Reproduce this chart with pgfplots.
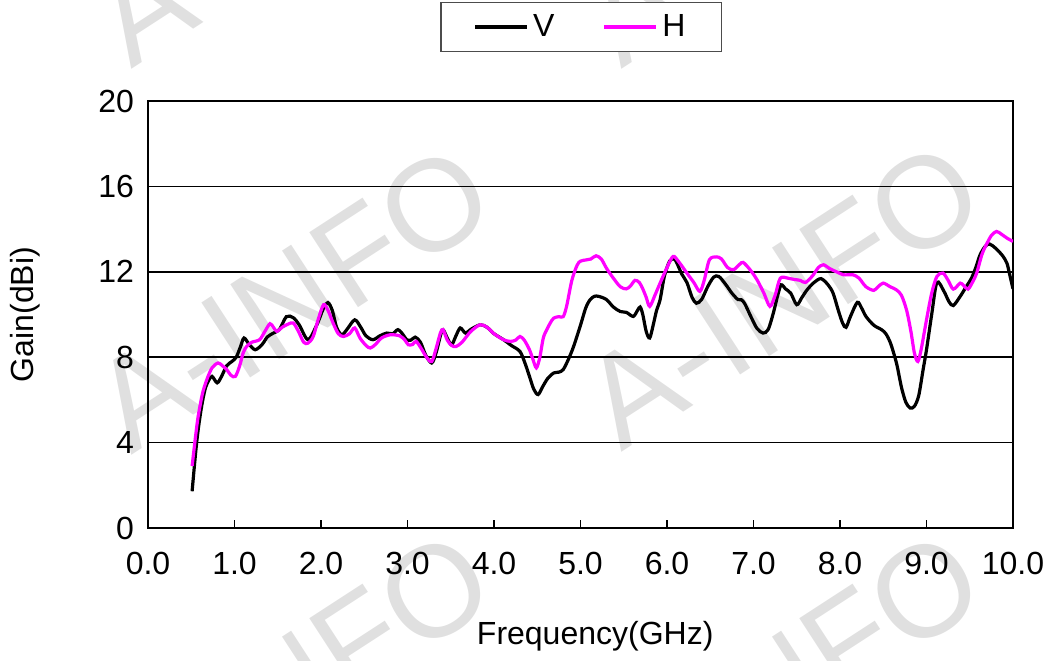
\documentclass[border=0pt]{standalone}
\usepackage{pgfplots}
\pgfplotsset{compat=1.18}
\usepackage{fontspec}
\setmainfont{Liberation Sans}
\definecolor{hmag}{RGB}{255,0,255}
\definecolor{wm}{RGB}{224,224,224}
\begin{document}
\begin{tikzpicture}[font=\fontsize{16pt}{19pt}\selectfont]
\path[use as bounding box] (0,0) rectangle (522.5pt,330pt);
\begin{scope}
\clip (0,0) rectangle (522.5pt,330pt);
\foreach \cx/\cy in {146/374, 391/374, 146/181, 391/182.5, 146/-12, 391/-12}{
  \node[text=wm, rotate=33, font=\fontsize{65pt}{70pt}\selectfont, inner sep=0pt] at (\cx pt,\cy pt) {A-INFO};
}
\end{scope}
\begin{axis}[
  at={(74pt,66pt)}, anchor=south west,
  scale only axis, width=432.5pt, height=213.5pt,
  xmin=0, xmax=10, ymin=0, ymax=20,
  xtick={0,1,...,10},
  xticklabels={0.0,1.0,2.0,3.0,4.0,5.0,6.0,7.0,8.0,9.0,10.0},
  ytick={0,4,8,12,16,20},
  /pgf/number format/assume math mode=true,
  xtick pos=bottom, tick align=inside,
  major tick length=4pt,
  ytick style={draw=none},
  xtick style={black, line width=0.75pt},
  ymajorgrids, grid style={black, line width=0.75pt},
  axis line style={black, line width=1.1pt},
  xticklabel style={yshift=-8.5pt},
  yticklabel style={xshift=-3.5pt},
  xlabel={Frequency(GHz)},
  ylabel={Gain(dBi)},
  xlabel style={at={(rel axis cs:0.517,-0.2529)}, anchor=center},
  ylabel style={at={(rel axis cs:-0.1422,0.5)}, anchor=center},
  legend columns=2,
  legend style={at={(0.501,1.173)}, anchor=center, draw=black!70, line width=0.75pt,
    inner xsep=16pt, inner ysep=4pt,
    /tikz/every even column/.append style={column sep=22pt}},
  legend image code/.code={\draw[#1, line width=2pt] (0pt,0pt) -- (26pt,0pt);},
  legend cell align=left,
]
\addplot[black, line width=1.6pt, smooth, tension=0.5] coordinates {
(0.51,1.72) (0.55,3.5) (0.58,4.6) (0.62,5.7) (0.66,6.5) (0.70,6.9) (0.74,7.1) (0.80,6.8) (0.85,7.1) (0.91,7.6) (0.97,7.8) (1.02,8.0) (1.07,8.5) (1.11,8.9) (1.17,8.6) (1.24,8.35) (1.32,8.6) (1.38,8.95) (1.45,9.13) (1.52,9.3) (1.60,9.9) (1.68,9.85) (1.75,9.5) (1.85,8.82) (1.95,9.5) (2.03,10.3) (2.08,10.56) (2.13,10.2) (2.18,9.4) (2.24,9.05) (2.30,9.3) (2.39,9.75) (2.46,9.4) (2.52,9.0) (2.60,8.82) (2.68,9.0) (2.76,9.13) (2.83,9.1) (2.89,9.29) (2.95,9.05) (2.99,8.82) (3.04,8.8) (3.09,8.94) (3.15,8.7) (3.21,8.1) (3.28,7.73) (3.33,8.2) (3.38,9.0) (3.41,9.29) (3.46,8.9) (3.51,8.58) (3.56,9.0) (3.61,9.37) (3.67,9.13) (3.73,9.3) (3.84,9.52) (3.92,9.4) (4.00,9.1) (4.11,8.82) (4.20,8.55) (4.30,8.27) (4.36,7.7) (4.41,7.1) (4.46,6.5) (4.51,6.25) (4.56,6.6) (4.62,7.0) (4.69,7.26) (4.75,7.3) (4.80,7.42) (4.86,7.9) (4.92,8.5) (5.00,9.5) (5.06,10.3) (5.11,10.69) (5.16,10.85) (5.21,10.85) (5.30,10.7) (5.38,10.35) (5.46,10.14) (5.53,10.1) (5.61,9.91) (5.66,10.2) (5.69,10.35) (5.72,10.0) (5.76,9.2) (5.80,8.9) (5.84,9.5) (5.88,10.2) (5.92,10.69) (5.97,11.8) (6.03,12.5) (6.08,12.6) (6.11,12.45) (6.17,11.9) (6.23,11.5) (6.29,10.8) (6.34,10.53) (6.40,10.7) (6.47,11.3) (6.54,11.75) (6.60,11.78) (6.68,11.4) (6.75,11.0) (6.82,10.7) (6.86,10.69) (6.90,10.5) (6.97,9.9) (7.04,9.35) (7.11,9.13) (7.17,9.3) (7.23,10.08) (7.28,10.9) (7.32,11.39) (7.37,11.2) (7.43,11.0) (7.50,10.46) (7.56,10.8) (7.62,11.16) (7.70,11.5) (7.78,11.68) (7.86,11.4) (7.92,11.0) (7.98,10.2) (8.03,9.6) (8.07,9.4) (8.12,9.9) (8.20,10.57) (8.25,10.3) (8.30,9.91) (8.39,9.5) (8.48,9.29) (8.53,9.1) (8.58,8.7) (8.62,8.2) (8.66,7.6) (8.71,6.6) (8.76,5.9) (8.81,5.62) (8.86,5.7) (8.91,6.2) (8.96,7.4) (9.00,8.35) (9.06,10.0) (9.12,11.5) (9.20,11.1) (9.26,10.6) (9.31,10.42) (9.39,10.85) (9.46,11.31) (9.52,11.7) (9.57,12.2) (9.62,12.8) (9.68,13.2) (9.73,13.3) (9.80,13.1) (9.88,12.75) (9.93,12.4) (9.96,11.9) (10.0,11.2)
};
\addlegendentry{V}
\addplot[hmag, line width=1.6pt, smooth, tension=0.5] coordinates {
(0.51,2.9) (0.55,4.3) (0.58,5.23) (0.63,6.3) (0.68,6.95) (0.74,7.5) (0.81,7.73) (0.86,7.6) (0.91,7.42) (0.96,7.15) (1.01,7.1) (1.06,7.6) (1.10,8.2) (1.14,8.5) (1.20,8.7) (1.29,8.82) (1.35,9.2) (1.41,9.57) (1.45,9.4) (1.49,9.21) (1.55,9.4) (1.62,9.55) (1.68,9.6) (1.74,9.2) (1.80,8.7) (1.85,8.66) (1.91,8.97) (1.97,9.8) (2.03,10.46) (2.08,10.2) (2.14,9.6) (2.20,9.1) (2.26,8.97) (2.33,9.1) (2.39,9.37) (2.45,8.9) (2.52,8.55) (2.57,8.43) (2.63,8.6) (2.70,8.9) (2.80,9.05) (2.91,9.0) (2.97,8.8) (3.01,8.58) (3.06,8.6) (3.10,8.74) (3.16,8.4) (3.22,8.0) (3.28,7.8) (3.33,8.4) (3.38,9.13) (3.41,9.29) (3.46,8.8) (3.51,8.55) (3.56,8.5) (3.63,8.7) (3.73,9.2) (3.84,9.52) (3.92,9.4) (4.00,9.1) (4.11,8.82) (4.19,8.74) (4.25,8.8) (4.30,8.97) (4.35,8.8) (4.41,8.35) (4.45,7.9) (4.49,7.5) (4.53,8.0) (4.57,8.9) (4.61,9.29) (4.65,9.6) (4.69,9.83) (4.75,9.9) (4.80,9.9) (4.84,10.4) (4.90,11.6) (4.96,12.3) (5.00,12.5) (5.07,12.56) (5.12,12.6) (5.18,12.75) (5.24,12.6) (5.30,12.17) (5.38,11.7) (5.46,11.3) (5.53,11.2) (5.58,11.35) (5.63,11.6) (5.68,11.5) (5.72,11.2) (5.76,10.8) (5.80,10.38) (5.86,10.9) (5.92,11.47) (6.00,12.2) (6.07,12.72) (6.13,12.5) (6.23,11.94) (6.31,11.5) (6.38,11.08) (6.43,11.6) (6.49,12.56) (6.57,12.7) (6.63,12.6) (6.70,12.2) (6.77,12.1) (6.84,12.35) (6.88,12.44) (6.96,12.1) (7.04,11.63) (7.12,11.0) (7.19,10.38) (7.25,10.9) (7.31,11.7) (7.40,11.7) (7.46,11.65) (7.54,11.6) (7.60,11.5) (7.68,11.8) (7.75,12.2) (7.81,12.33) (7.88,12.15) (7.96,12.0) (8.04,11.86) (8.15,11.86) (8.22,11.7) (8.30,11.3) (8.39,11.13) (8.44,11.3) (8.50,11.47) (8.58,11.3) (8.65,11.16) (8.71,10.9) (8.77,10.2) (8.82,9.2) (8.86,8.2) (8.90,7.8) (8.94,8.4) (9.00,9.75) (9.06,11.0) (9.12,11.78) (9.19,11.94) (9.25,11.6) (9.31,11.19) (9.39,11.47) (9.43,11.35) (9.48,11.19) (9.53,11.5) (9.58,11.94) (9.64,12.8) (9.69,13.26) (9.75,13.7) (9.81,13.89) (9.87,13.75) (9.93,13.58) (10.0,13.42)
};
\addlegendentry{H}
\end{axis}
\end{tikzpicture}
\end{document}
